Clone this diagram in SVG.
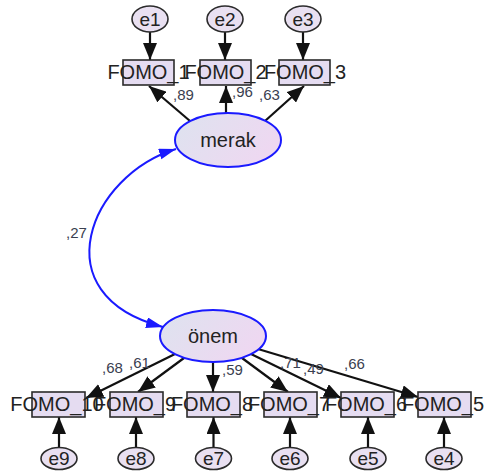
<svg xmlns="http://www.w3.org/2000/svg" width="484" height="475" viewBox="0 0 484 475">
<defs>
<linearGradient id="lat" x1="0" y1="0" x2="1" y2="0.4">
<stop offset="0" stop-color="#dde3ef"/>
<stop offset="1" stop-color="#eed8f1"/>
</linearGradient>
<marker id="ab" markerUnits="userSpaceOnUse" markerWidth="18" markerHeight="14" refX="17" refY="7" orient="auto">
<path d="M0,0 L17,7 L0,14 z" fill="#111"/>
</marker>
<marker id="bl" markerUnits="userSpaceOnUse" markerWidth="18" markerHeight="12" refX="17" refY="5.5" orient="auto-start-reverse">
<path d="M0,0 L17,5.5 L0,11 z" fill="#1a1aff"/>
</marker>
</defs>
<style>
.obs{fill:#e5dcf1;stroke:#2b2b2b;stroke-width:1.6}
.err{fill:#e9e0f1;stroke:#2b2b2b;stroke-width:1.6}
.lat{fill:url(#lat);stroke:#1a1aff;stroke-width:2}
.t{font-family:"Liberation Sans",Arial,sans-serif;font-size:20px;fill:#222;text-anchor:middle}
.lt{font-family:"Liberation Sans",Arial,sans-serif;font-size:20px;fill:#222;text-anchor:middle}
.et{font-family:"Liberation Sans",Arial,sans-serif;font-size:19px;fill:#222;text-anchor:middle}
.w{font-family:"Liberation Sans",Arial,sans-serif;font-size:15px;fill:#3a4050}
.ar{stroke:#111;stroke-width:2.2;fill:none;marker-end:url(#ab)}
.cv{stroke:#1a1aff;stroke-width:2;fill:none;marker-start:url(#bl);marker-end:url(#bl)}
</style>
<g id="connectors">
<line class="ar" x1="150" y1="32" x2="150" y2="60"/>
<line class="ar" x1="225" y1="32" x2="225" y2="60"/>
<line class="ar" x1="303" y1="32" x2="303" y2="60"/>
<line class="ar" x1="190" y1="121" x2="149" y2="86"/>
<line class="ar" x1="226" y1="113" x2="226" y2="86"/>
<line class="ar" x1="265" y1="121" x2="304" y2="86"/>
<path class="cv" d="M176 149 C90 175 40 295 163 327"/>
<line class="ar" x1="175" y1="354" x2="86" y2="398"/>
<line class="ar" x1="184" y1="358" x2="138" y2="392"/>
<line class="ar" x1="213" y1="362" x2="213" y2="392"/>
<line class="ar" x1="242" y1="358" x2="288" y2="392"/>
<line class="ar" x1="251" y1="354" x2="341" y2="398"/>
<line class="ar" x1="258" y1="349" x2="418" y2="397"/>
<line class="ar" x1="59" y1="447.5" x2="59" y2="417"/>
<line class="ar" x1="136" y1="447.5" x2="136" y2="417"/>
<line class="ar" x1="213.5" y1="447.5" x2="213.5" y2="417"/>
<line class="ar" x1="290" y1="447.5" x2="290" y2="417"/>
<line class="ar" x1="368" y1="447.5" x2="368" y2="417"/>
<line class="ar" x1="444" y1="447.5" x2="444" y2="417"/>
</g>
<g id="labels">
<text class="w" x="173" y="100">,89</text>
<text class="w" x="232" y="97">,96</text>
<text class="w" x="259" y="100">,63</text>
<text class="w" x="66" y="238">,27</text>
<text class="w" x="102" y="373">,68</text>
<text class="w" x="129" y="368">,61</text>
<text class="w" x="222" y="375">,59</text>
<text class="w" x="280" y="368">,71</text>
<text class="w" x="303" y="374">,49</text>
<text class="w" x="344" y="369">,66</text>
</g>
<g id="e1"><ellipse class="err" cx="150" cy="19" rx="18" ry="13"/><text class="et" x="150" y="25.5">e1</text></g>
<g id="e2"><ellipse class="err" cx="225" cy="19" rx="18" ry="13"/><text class="et" x="225" y="25.5">e2</text></g>
<g id="e3"><ellipse class="err" cx="303" cy="19" rx="18" ry="13"/><text class="et" x="303" y="25.5">e3</text></g>
<g id="FOMO_1"><rect class="obs" x="123" y="60" width="51" height="25"/><text class="t" x="148.5" y="79">FOMO_1</text></g>
<g id="FOMO_2"><rect class="obs" x="200" y="60" width="51" height="25"/><text class="t" x="225.5" y="79">FOMO_2</text></g>
<g id="FOMO_3"><rect class="obs" x="279" y="60" width="51" height="25"/><text class="t" x="305" y="79">FOMO_3</text></g>
<g id="merak"><ellipse class="lat" cx="228" cy="140" rx="53" ry="27"/><text class="lt" x="228" y="147">merak</text></g>
<g id="onem"><ellipse class="lat" cx="213" cy="336" rx="53" ry="26"/><text class="lt" x="213" y="342.5">önem</text></g>
<g id="FOMO_10"><rect class="obs" x="32" y="392" width="53" height="25"/><text class="t" x="57" y="411">FOMO_10</text></g>
<g id="FOMO_9"><rect class="obs" x="110" y="392" width="53" height="25"/><text class="t" x="135" y="411">FOMO_9</text></g>
<g id="FOMO_8"><rect class="obs" x="187" y="392" width="53" height="25"/><text class="t" x="212" y="411">FOMO_8</text></g>
<g id="FOMO_7"><rect class="obs" x="264" y="392" width="53" height="25"/><text class="t" x="289" y="411">FOMO_7</text></g>
<g id="FOMO_6"><rect class="obs" x="341" y="392" width="53" height="25"/><text class="t" x="366" y="411">FOMO_6</text></g>
<g id="FOMO_5"><rect class="obs" x="418" y="392" width="53" height="25"/><text class="t" x="443" y="411">FOMO_5</text></g>
<g id="e9"><ellipse class="err" cx="59" cy="458.5" rx="18" ry="11"/><text class="et" x="59" y="465">e9</text></g>
<g id="e8"><ellipse class="err" cx="136" cy="458.5" rx="18" ry="11"/><text class="et" x="136" y="465">e8</text></g>
<g id="e7"><ellipse class="err" cx="213.5" cy="458.5" rx="18" ry="11"/><text class="et" x="213.5" y="465">e7</text></g>
<g id="e6"><ellipse class="err" cx="290" cy="458.5" rx="18" ry="11"/><text class="et" x="290" y="465">e6</text></g>
<g id="e5"><ellipse class="err" cx="368" cy="458.5" rx="18" ry="11"/><text class="et" x="368" y="465">e5</text></g>
<g id="e4"><ellipse class="err" cx="444" cy="458.5" rx="18" ry="11"/><text class="et" x="444" y="465">e4</text></g>
</svg>
